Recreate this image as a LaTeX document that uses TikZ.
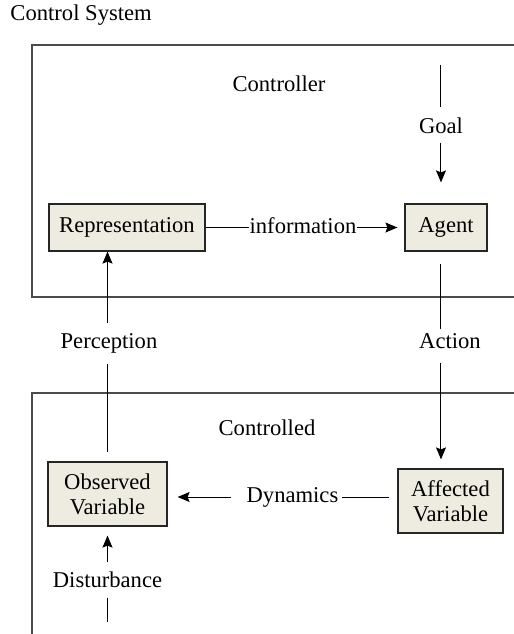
\documentclass[tikz,border=0pt]{standalone}
\usepackage{fontspec}
\setmainfont{LiberationSerif}[Extension=.ttf,UprightFont=*-Regular,BoldFont=*-Bold,ItalicFont=*-Italic,BoldItalicFont=*-BoldItalic]
\usetikzlibrary{arrows.meta}
\definecolor{boxfill}{RGB}{238,236,224}
\definecolor{framegray}{RGB}{75,75,75}

\begin{document}
\begin{tikzpicture}[x=0.5pt,y=-0.5pt,line width=0.5pt,
    >={Stealth[length=6pt,width=5pt,inset=1pt]},
    font=\fontsize{11.3}{12.5}\selectfont,
    box/.style={draw=black!85,line width=0.6pt,fill=boxfill,align=center,inner sep=0pt},
    lbl/.style={inner sep=0pt,text height=8pt,text depth=2.5pt},
    frame/.style={draw=framegray,line width=0.9pt}]
  \useasboundingbox (0,0) rectangle (514,634);

  % the two open frames
  \draw[frame] (514,45) -| (32,297) -- (514,297);
  \draw[frame] (514,393) -| (32,634);

  \node[anchor=west,inner sep=0pt] (title) at (10,15) {Control System};
  \node[lbl] (ctrl) at (279,86) {Controller};
  \node[lbl] (ctrld) at (267,430) {Controlled};

  % boxes
  \node[box,minimum width=78pt,minimum height=23.5pt] (rep) at (127,227.5) {Representation};
  \node[box,minimum width=41pt,minimum height=23.5pt] (agent) at (446,227.5) {Agent};
  \node[box,minimum width=59.5pt,minimum height=32pt] (obs) at (107.5,494) {Observed\\Variable};
  \node[box,minimum width=52.5pt,minimum height=32pt] (aff) at (450.5,501) {Affected\\Variable};

  % labels on the connectors
  \coordinate (goaltop) at (441,65);
  \coordinate (distbot) at (107.5,622);
  \node[lbl] (goal) at (441,128) {Goal};
  \node[lbl] (info) at (303,227.5) {information};
  \node[lbl] (perc) at (109,343) {Perception};
  \node[lbl] (act) at (450,343) {Action};
  \node[lbl] (dyn) at (292.5,497) {Dynamics};
  \node[lbl] (dist) at (107.5,582) {Disturbance};

  % connectors
  \draw[shorten >=5pt] (goaltop) -- (goal.north);
  \draw[->,shorten <=1.75pt,shorten >=10.5pt] (goal.south) -- (goal.south |- agent.north);
  \draw (rep.east) -- (info.west);
  \draw[->,shorten >=3.5pt] (info.east) -- (agent.west);
  \draw[->,shorten <=4.75pt] (obs.north |- perc.north) -- (obs.north |- rep.south);
  \draw[shorten <=4.75pt,shorten >=4.5pt] (obs.north |- perc.south) -- (obs.north);
  \draw[shorten <=6pt,shorten >=1.75pt] (goaltop |- agent.south) -- (goaltop |- act.north);
  \draw[->,shorten <=4.25pt,shorten >=4.5pt] (goaltop |- act.south) -- (goaltop |- aff.north);
  \draw[shorten <=4pt,shorten >=1.5pt] (aff.west |- dyn.east) -- (dyn.east);
  \draw[->,shorten <=7.5pt,shorten >=5pt] (dyn.west) -- (obs.east |- dyn.west);
  \draw[->,shorten <=4.75pt,shorten >=4.5pt] (dist.north) -- (obs.south);
  \draw[shorten <=2.25pt] (dist.south) -- (distbot);
\end{tikzpicture}
\end{document}
